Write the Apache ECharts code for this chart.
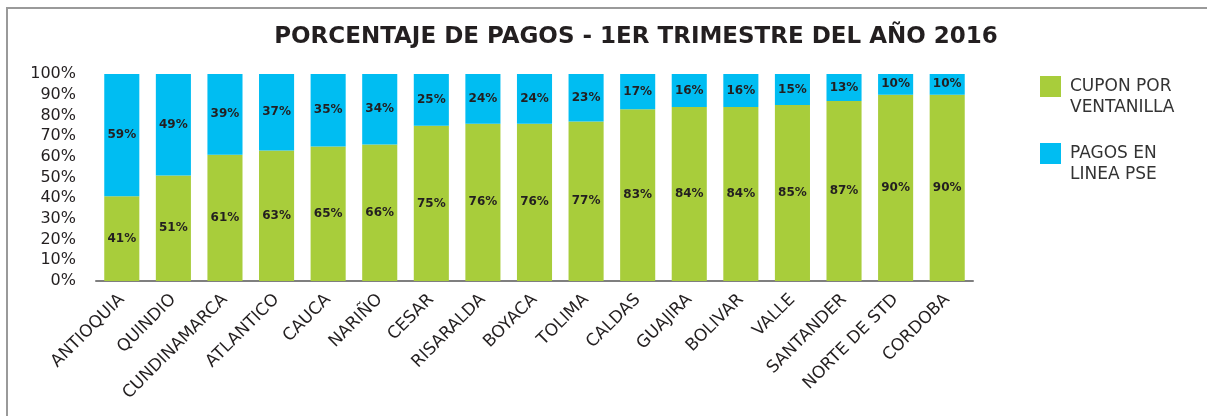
<!DOCTYPE html>
<html>
<head>
<meta charset="utf-8">
<script src="https://cdn.jsdelivr.net/npm/echarts@6/dist/echarts.min.js"></script>
<style>
html,body{margin:0;padding:0;background:#fff;}
#pagos{width:1207px;height:416px;}
</style>
</head>
<body>
<div id="pagos"></div>
<script>
var departamentos = ['ANTIOQUIA','QUINDIO','CUNDINAMARCA','ATLANTICO','CAUCA','NARIÑO','CESAR','RISARALDA','BOYACA','TOLIMA','CALDAS','GUAJIRA','BOLIVAR','VALLE','SANTANDER','NORTE DE STD','CORDOBA'];
var cuponVentanilla = [41,51,61,63,65,66,75,76,76,77,83,84,84,85,87,90,90];
var pagosPSE = [59,49,39,37,35,34,25,24,24,23,17,16,16,15,13,10,10];
var ticksY = [0,10,20,30,40,50,60,70,80,90,100];

// parecido a Verdana
var fuente = 'Verdana, "DejaVu Sans"';
var myChart = echarts.init(document.getElementById('pagos'));
var etiqueta = { show: true, position: 'inside', formatter: '{c}%', fontSize: 12, fontWeight: 'bold', color: '#231f20', fontFamily: fuente };
var option = {
    animation: false,
    textStyle: { fontFamily: fuente },
    title: {
        text: 'PORCENTAJE DE PAGOS - 1ER TRIMESTRE DEL AÑO 2016',
        left: 631, top: 21, textAlign: 'center',
        textStyle: { fontSize: 23, fontWeight: 'bold', color: '#231f20', fontFamily: fuente }
    },
    graphic: [{
        type: 'rect', silent: true,
        shape: { x: 7, y: 8, width: 1260, height: 460 },
        style: { fill: null, stroke: '#9a9a9a', lineWidth: 2 }
    }],
    legend: {
        orient: 'vertical', left: 1035, top: 50,
        icon: 'rect', itemWidth: 21, itemHeight: 21, itemGap: 4,
        data: ['CUPON POR VENTANILLA', 'PAGOS EN LINEA PSE'],
        formatter: function (name) {
            return name == 'CUPON POR VENTANILLA' ? '{e|}\n{t|CUPON POR}\n{t|VENTANILLA}' : '{e|}\n{t|PAGOS EN}\n{t|LINEA PSE}';
        },
        textStyle: {
            fontSize: 17, lineHeight: 21, color: '#333', fontFamily: fuente,
            rich: {
                e: { height: 21, lineHeight: 21 },
                t: { fontSize: 17, lineHeight: 21, color: '#333', fontFamily: fuente, padding: [0, 0, 0, 4] }
            }
        }
    },
    grid: { left: 96, right: 234, top: 74, bottom: 135, containLabel: false },
    xAxis: {
        type: 'category', data: departamentos,
        axisLine: { lineStyle: { color: '#7f7f7f', width: 2 } },
        axisTick: { show: false },
        axisLabel: { rotate: 45, fontSize: 17, color: '#231f20', margin: 16, interval: 0, fontFamily: fuente }
    },
    yAxis: {
        type: 'value', min: 0, max: 100, interval: 10,
        axisLine: { show: false }, axisTick: { show: false },
        splitLine: { show: false },
        axisLabel: {
            fontSize: 16, color: '#231f20', margin: 20, fontFamily: fuente,
            formatter: function (v) { return ticksY.indexOf(v) >= 0 ? v + '%' : ''; }
        }
    },
    series: [{
        name: 'CUPON POR VENTANILLA', type: 'bar', stack: 'total',
        data: cuponVentanilla, barCategoryGap: '32%',
        itemStyle: { color: '#a8cd3b' },
        label: etiqueta
    }, {
        name: 'PAGOS EN LINEA PSE', type: 'bar', stack: 'total',
        data: pagosPSE, barCategoryGap: '32%',
        itemStyle: { color: '#00bdf2' },
        label: etiqueta
    }]
};
myChart.setOption(option);
</script>
</body>
</html>
